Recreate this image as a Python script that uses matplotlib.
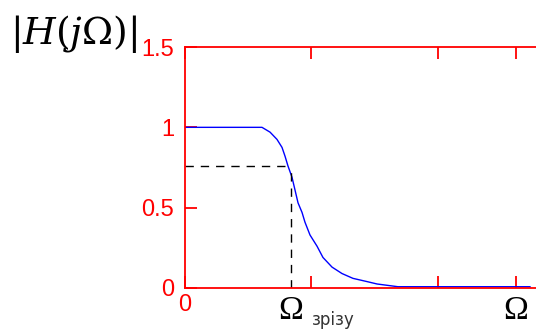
import matplotlib.pyplot as plt

# АЧХ фільтра нижніх частот
omega = [0.0, 0.611, 0.675, 0.730, 0.770, 0.794, 0.817, 0.849, 0.873, 0.897,
         0.929, 0.952, 0.992, 1.048, 1.095, 1.167, 1.246, 1.333, 1.444,
         1.524, 1.69, 2.738]
H = [1.0, 1.0, 0.97, 0.925, 0.875, 0.82, 0.76, 0.69, 0.61, 0.53,
     0.47, 0.41, 0.33, 0.26, 0.19, 0.13, 0.09, 0.06, 0.04,
     0.025, 0.008, 0.008]

omega_cut = 0.841
H_cut = 0.76
x_ticks = [0, 1.0, 2.008, 2.627]
x_tick_labels = ['0', '', '', '']
y_ticks = [0, 0.5, 1, 1.5]
y_tick_labels = ['0', '0.5', '1', '1.5']

plt.rcParams['mathtext.fontset'] = 'dejavuserif'

fig = plt.figure(figsize=(5.36, 3.29), dpi=100)
ax = fig.add_axes([185 / 536, 41 / 329, 378 / 536, 241 / 329])

ax.plot(omega, H, color='#0000ff', lw=1.0)
ax.plot([0, omega_cut], [H_cut, H_cut], color='black', lw=1.0, dashes=(6, 5))
ax.plot([omega_cut, omega_cut], [0, H_cut], color='black', lw=1.0, dashes=(6, 5))

ax.set_xlim(0, 3)
ax.set_ylim(0, 1.5)
ax.set_xticks(x_ticks)
ax.set_xticklabels(x_tick_labels, family='Liberation Sans', fontsize=17)
ax.set_yticks(y_ticks)
ax.set_yticklabels(y_tick_labels, family='Liberation Sans', fontsize=17)

for s in ax.spines.values():
    s.set_color('red')
    s.set_linewidth(1.3)
ax.tick_params(colors='red', direction='in', length=8.5, width=1.3,
               top=True, right=True, pad=4)
ax.tick_params(axis='y', pad=8)

fig.text(10 / 536, 1 - 34 / 329, r'$\left|H(j\Omega)\right|$', fontsize=27,
         ha='left', va='center', color='black')

ax.text(omega_cut, -0.045, 'Ω', fontsize=24, family='Liberation Serif',
        ha='center', va='top', color='black', clip_on=False)
ax.text(omega_cut + 0.17, -0.145, 'зрізу', fontsize=12, ha='left', va='top',
        color='#333333', clip_on=False)
ax.text(2.627, -0.045, 'Ω', fontsize=24, family='Liberation Serif',
        ha='center', va='top', color='black', clip_on=False)

fig.savefig('out.png', dpi=100)
